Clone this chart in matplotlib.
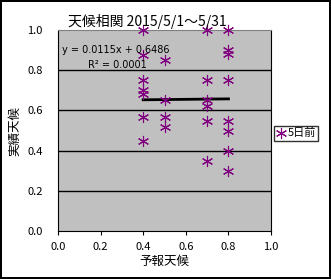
import matplotlib
matplotlib.use("Agg")
import matplotlib.pyplot as plt

plt.rcParams['font.family'] = ['Noto Sans CJK JP', 'DejaVu Sans']

# forecast value (x) -> observed values (y)
forecast = [0.4] * 7 + [0.5] * 4 + [0.7] * 6 + [0.8] * 8
observed = [1.0, 0.875, 0.75, 0.70, 0.68, 0.57, 0.45,
            0.85, 0.65, 0.57, 0.52,
            1.0, 0.75, 0.65, 0.62, 0.55, 0.35,
            1.0, 0.90, 0.88, 0.75, 0.55, 0.50, 0.40, 0.30]
slope = 0.0115
intercept = 0.6486
r2 = 0.0001
ticks = [0.0, 0.2, 0.4, 0.6, 0.8, 1.0]
tick_labels = ["0.0", "0.2", "0.4", "0.6", "0.8", "1.0"]

fig = plt.figure(figsize=(3.31, 2.79), dpi=100)
fig.patch.set_edgecolor("black")
fig.patch.set_linewidth(1.5)
ax = fig.add_axes([0.175, 0.172, 0.644, 0.720])
ax.set_facecolor("#c0c0c0")

for t in ticks[1:-1]:
    ax.axhline(t, color="black", linewidth=1, zorder=1)

ax.plot(forecast, observed, linestyle="none", marker=(6, 2, 0), markersize=8,
        markeredgewidth=0.8, color="#800080", label="5日前", zorder=3,
        clip_on=False)

# trend line
x0, x1 = min(forecast), max(forecast)
ax.plot([x0, x1], [slope * x0 + intercept, slope * x1 + intercept],
        color="black", linewidth=2, zorder=2)

ax.text(0.02, 0.885, f"y = {slope}x + {intercept}", fontsize=7,
        family="DejaVu Sans", transform=ax.transData)
ax.text(0.14, 0.81, f"R² = {r2:.4f}", fontsize=7,
        family="DejaVu Sans", transform=ax.transData)

ax.set_xlim(0, 1)
ax.set_ylim(0, 1)
ax.set_xticks(ticks)
ax.set_xticklabels(tick_labels, fontsize=8)
ax.set_yticks(ticks)
ax.set_yticklabels(tick_labels, fontsize=8)
ax.tick_params(axis="x", direction="out", length=3, pad=5)
ax.tick_params(axis="y", length=0, pad=11)
for s in ["left", "bottom", "right"]:
    ax.spines[s].set_color("black")
ax.spines["top"].set_color("#808080")

ax.set_title("天候相関 2015/5/1～5/31", fontsize=10, pad=3, x=0.42)
ax.set_xlabel("予報天候", fontsize=9, labelpad=2)
ax.set_ylabel("実績天候", fontsize=9, labelpad=4)

fig.legend(loc="upper left", bbox_to_anchor=(0.828, 0.55), fontsize=8,
           frameon=True, fancybox=False, edgecolor="black", handlelength=0.8,
           handletextpad=0.2, borderpad=0.2, borderaxespad=0)

fig.savefig("out.png", dpi=100)
